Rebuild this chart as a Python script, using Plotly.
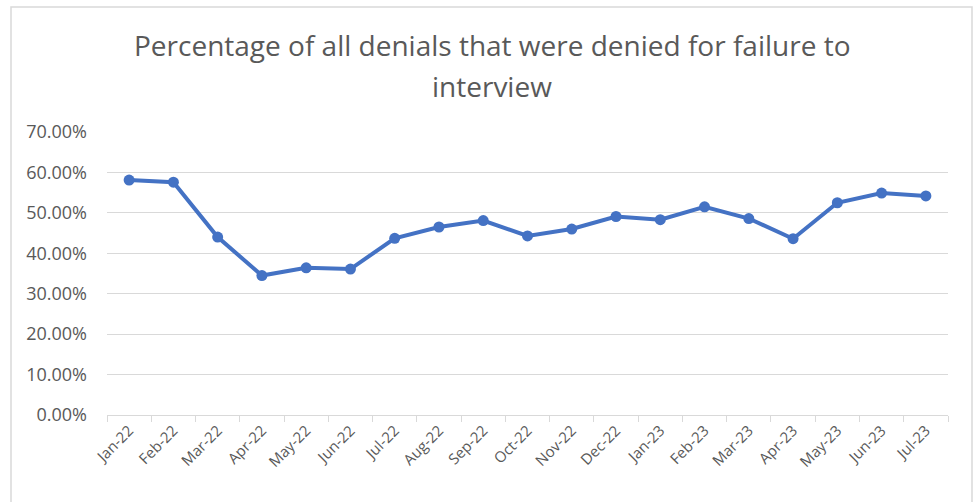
import plotly.graph_objects as go

months = ["Jan-22", "Feb-22", "Mar-22", "Apr-22", "May-22", "Jun-22", "Jul-22",
          "Aug-22", "Sep-22", "Oct-22", "Nov-22", "Dec-22", "Jan-23", "Feb-23",
          "Mar-23", "Apr-23", "May-23", "Jun-23", "Jul-23"]
pct_failure_to_interview = [58.1, 57.6, 44.0, 34.5, 36.4, 36.1, 43.7, 46.5, 48.1,
                            44.3, 46.0, 49.1, 48.3, 51.5, 48.6, 43.6, 52.5, 54.9, 54.2]
y_ticks = [0, 10, 20, 30, 40, 50, 60, 70]
y_tick_labels = [f"{v:.2f}%" for v in y_ticks]
title_lines = ["Percentage of all denials that were denied for failure to", "interview"]

fig = go.Figure()
fig.add_trace(go.Scatter(
    x=months, y=pct_failure_to_interview, mode="lines+markers",
    line=dict(color="#4472C4", width=4),
    marker=dict(color="#4472C4", size=11),
    showlegend=False,
))

W, H = 980, 502
L, R, T, B = 107, 32, 132, 87
pw, ph = W - L - R, H - T - B

def px_x(x):
    return (x - L) / pw

def px_y(y):
    return (H - B - y) / ph

annotations = []
for line, yc in zip(title_lines, [45, 86]):
    annotations.append(dict(text=line, xref="paper", yref="paper", x=px_x(492), y=px_y(yc),
                            xanchor="center", yanchor="middle", showarrow=False,
                            font=dict(family="Open Sans", size=28, color="#595959")))

fig.update_layout(
    width=W, height=H,
    margin=dict(l=L, r=R, t=T, b=B, autoexpand=False),
    paper_bgcolor="white", plot_bgcolor="white",
    font=dict(family="Open Sans", color="#595959"),
    annotations=annotations,
    xaxis=dict(type="category", range=[-0.5, len(months) - 0.5], tickangle=-45,
               ticks="outside", tickson="boundaries",
               tickcolor="#d9d9d9", ticklen=6, showgrid=False, showline=True, automargin=False,
               linecolor="#d9d9d9", linewidth=1, tickfont=dict(size=15, color="#595959")),
    yaxis=dict(range=[0, 70], tickvals=y_ticks, ticktext=y_tick_labels, automargin=False,
               showgrid=True, gridcolor="#d9d9d9", gridwidth=1, zeroline=False,
               showline=False, ticklabelstandoff=19,
               tickfont=dict(size=18, color="#595959")),
    shapes=[dict(type="rect", xref="paper", yref="paper",
                 x0=px_x(11), x1=px_x(972), y0=px_y(510), y1=px_y(7),
                 line=dict(color="#d9d9d9", width=1.5), fillcolor="rgba(0,0,0,0)",
                 layer="below")],
)

fig.write_html("out.html", config={"displayModeBar": False},
               post_script="document.body.style.margin='0';")
